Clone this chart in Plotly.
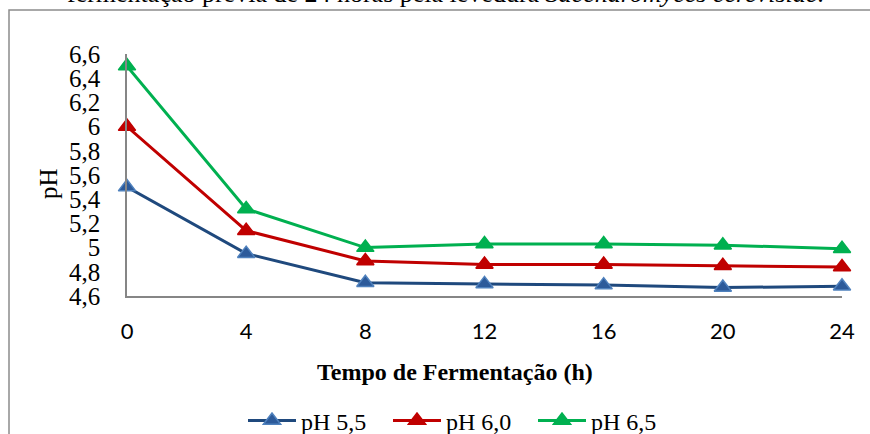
import plotly.graph_objects as go

hours = [0, 4, 8, 12, 16, 20, 24]
ph55 = [5.50, 4.95, 4.71, 4.70, 4.69, 4.67, 4.68]
ph60 = [6.00, 5.14, 4.89, 4.86, 4.86, 4.85, 4.84]
ph65 = [6.50, 5.32, 5.00, 5.03, 5.03, 5.02, 4.99]
names = ["pH 5,5", "pH 6,0", "pH 6,5"]
y_ticks = [4.6, 4.8, 5.0, 5.2, 5.4, 5.6, 5.8, 6.0, 6.2, 6.4, 6.6]

L, R, T, B = 127, 28, 54, 138
W, H = 870, 434
pw, ph = W - L - R, H - T - B

def px(x):
    return (x - L) / pw

def py(y):
    return (H - B - y) / ph

fig = go.Figure()
styles = [
    dict(line="#1F497D", fill="#2C5A9A", edge="#4F81BD"),
    dict(line="#C00000", fill="#C00000", edge="#C00000"),
    dict(line="#00B050", fill="#00B050", edge="#00B050"),
]
for name, vals, st in zip(names, [ph55, ph60, ph65], styles):
    fig.add_trace(go.Scatter(
        x=hours, y=vals, name=name, mode="lines+markers",
        line=dict(color=st["line"], width=3),
        marker=dict(symbol="triangle-up", size=15, color=st["fill"],
                    line=dict(color=st["edge"], width=1.5)),
        cliponaxis=False,
    ))

serif = "Times New Roman, Liberation Serif, serif"
fig.update_layout(
    width=W, height=H,
    margin=dict(l=L, r=R, t=T, b=B, autoexpand=False),
    paper_bgcolor="white", plot_bgcolor="white",
    separators=",.",
    showlegend=True,
    legend=dict(orientation="h", xref="container", yref="container",
                x=243 / W, y=1 - 421 / H, xanchor="left", yanchor="middle",
                font=dict(family=serif, size=24, color="black"),
                itemwidth=48, entrywidth=82, tracegroupgap=0,
                bgcolor="rgba(0,0,0,0)"),
    xaxis=dict(range=[0, 24], tickvals=hours, showgrid=False, zeroline=False,
               showline=True, linecolor="#868686", linewidth=1.5,
               ticks="", ticklabelstandoff=15, automargin=False,
               tickfont=dict(family="Lato", size=22, color="black")),
    yaxis=dict(range=[4.6, 6.6], tickvals=y_ticks, showgrid=False, zeroline=False,
               showline=True, linecolor="#868686", linewidth=1.5,
               ticks="", ticklabelstandoff=20, automargin=False,
               tickfont=dict(family=serif, size=25, color="black")),
    shapes=[dict(type="rect", xref="paper", yref="paper",
                 x0=px(9), x1=px(880), y0=py(445), y1=py(10),
                 line=dict(color="#8C8C8C", width=1.5), layer="below")],
    annotations=[
        dict(text="pH", xref="paper", yref="paper", x=px(48), y=py(184),
             textangle=-90, showarrow=False, xanchor="center", yanchor="middle",
             font=dict(family=serif, size=25, color="black")),
        dict(text="<b>Tempo de Fermentação (h)</b>", xref="paper", yref="paper",
             x=px(455), y=py(372), showarrow=False, xanchor="center", yanchor="middle",
             font=dict(family=serif, size=24, color="black")),
        dict(text="fermentação prévia de 24 horas pela levedura <i>Saccharomyces cerevisiae</i>.",
             xref="paper", yref="paper", x=px(445), y=py(-7), showarrow=False,
             xanchor="center", yanchor="middle",
             font=dict(family=serif, size=26, color="black")),
    ],
)

fig.write_html("out.html")
